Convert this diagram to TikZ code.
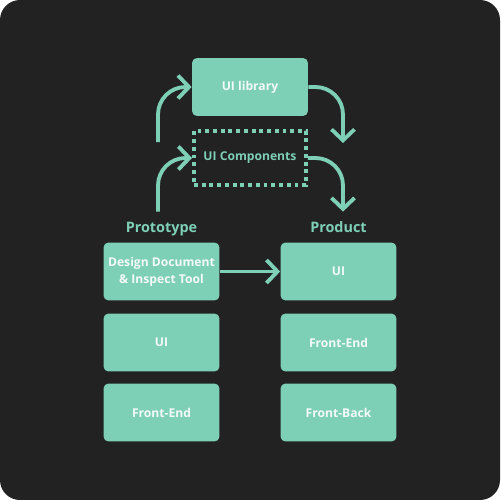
\documentclass[tikz,border=0pt]{standalone}
\usepackage{fontspec}
\setmainfont{Open Sans}
\usetikzlibrary{arrows.meta}

\begin{document}
\begin{tikzpicture}[x=0.02cm,y=-0.02cm]
% Colors define
\definecolor{myDark}{HTML}{222222}
\definecolor{myTeal}{HTML}{7DCFB6}
\definecolor{myWhite}{HTML}{F4FAF7}

% Styles
\tikzset{
  box/.style={fill=myTeal,rounded corners=0.1cm,minimum width=2.32cm,minimum height=1.16cm,
    text=myWhite,font=\fontsize{6.9}{9.6}\selectfont\bfseries,align=center,inner sep=0},
  dotbox/.style={draw=myTeal,line width=2.2pt,dash pattern=on 2.2pt off 2.2pt,
    minimum width=2.24cm,minimum height=1.08cm,text=myTeal,font=\fontsize{6.9}{9.6}\selectfont\bfseries},
  title/.style={text=myTeal,font=\fontsize{8.2}{10}\selectfont\bfseries,inner sep=0.1cm,
    text height=1.6ex,text depth=0.4ex,anchor=base},
  arr/.style={draw=myTeal,line width=2.2pt,rounded corners=0.55cm,
    -{Straight Barb[length=0.22cm,width=0.46cm,line width=2.2pt]}}
}

% Background
\useasboundingbox (0,0) rectangle (500,500);
\fill[myDark,rounded corners=0.4cm] (0,0) rectangle (500,500);

% Top boxes
\node[box] (lib) at (250,87) {UI library};
\node[dotbox] (comp) at (250,158) {UI Components};

% Column titles
\node[title] (proto) at (161.5,232) {Prototype};
\node[title] (prod) at (338.5,232) {Product};

% Prototype column
\node[box] (design) at (161.5,271.5) {Design Document\\\& Inspect Tool};
\node[box] (uiL) at (161.5,342.5) {UI};
\node[box] (feL) at (161.5,412.5) {Front-End};

% Product column
\node[box] (uiR) at (338.5,271.5) {UI};
\node[box] (feR) at (338.5,342.5) {Front-End};
\node[box] (fb) at (338.5,412.5) {Front-Back};

% Free ends of the arrows
\coordinate (up) at (158,142);
\coordinate (down) at (343,143);

% Arrows
\draw[arr] (up) |- (lib.west);
\draw[arr] (proto.north -| up) |- (comp.west);
\draw[arr] (lib.east) -| (down);
\draw[arr] (comp.east) -| (down |- prod.north);
\draw[arr] (design.east) -- (uiR.west);
\end{tikzpicture}
\end{document}
